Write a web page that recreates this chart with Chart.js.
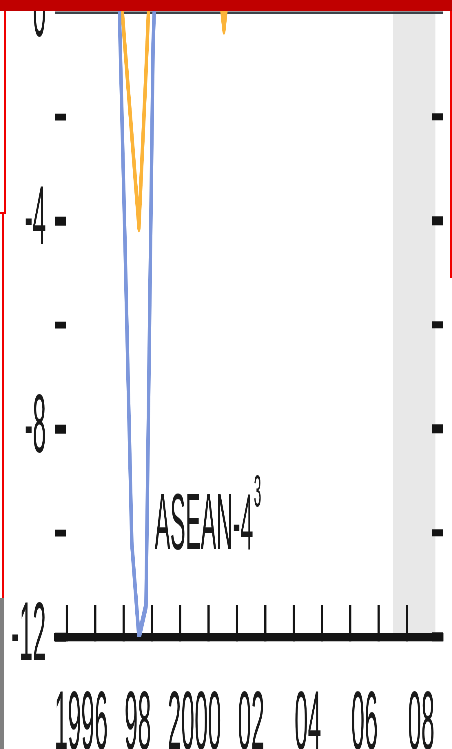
<!DOCTYPE html>
<html>
<head>
<meta charset="utf-8">
<script src="https://cdn.jsdelivr.net/npm/chart.js@4.4.1/dist/chart.umd.min.js"></script>
<style>
html,body{margin:0;padding:0;background:#fff;overflow:hidden;width:452px;height:749px;}
#stage{position:absolute;left:0;top:0;width:452px;height:217px;transform:scaleY(3.4516);transform-origin:0 0;}
.deco{position:absolute;}
</style>
</head>
<body>
<div id="stage"><canvas id="c" width="452" height="217"></canvas></div>
<div class="deco" style="left:0;top:0;width:452px;height:11px;background:#c00000;"></div>
<div class="deco" style="left:4px;top:11px;width:2px;height:202px;background:#f00000;"></div>
<div class="deco" style="left:0;top:212px;width:6px;height:2px;background:#f00000;"></div>
<div class="deco" style="left:2px;top:213px;width:2px;height:385px;background:#f00000;"></div>
<div class="deco" style="left:0;top:598px;width:4px;height:151px;background:#7f7f7f;"></div>
<div class="deco" style="left:449.5px;top:11px;width:2px;height:267px;background:#f00000;"></div>
<script>
// ---- data ----
const blueYears  = [1996.04, 1996.54, 1997.04, 1997.54, 1997.79, 1998.04, 1998.29, 1998.54, 1998.79, 1999.04, 1999.29, 1999.79, 2000.29, 2000.79, 2001.29, 2001.79, 2002.29, 2002.79, 2003.29, 2003.79, 2004.29, 2004.79, 2005.29, 2005.79, 2006.29, 2006.79, 2007.29, 2007.79, 2008.29, 2008.79];
const blueValues = [7.5, 7.2, 6.8, 4.5, 1.4, -4.2, -10.2, -12.0, -11.4, -0.6, 3.2, 5.5, 6.0, 4.0, 1.5, 2.5, 4.2, 5.0, 4.8, 5.6, 6.0, 5.4, 5.1, 5.3, 5.6, 5.8, 6.0, 5.8, 5.2, 4.0];

const orangeYears  = [1996.04, 1996.54, 1997.04, 1997.54, 1997.79, 1998.04, 1998.29, 1998.54, 1998.79, 1999.04, 1999.29, 1999.79, 2000.29, 2000.79, 2001.04, 2001.29, 2001.54, 2001.79, 2002.29, 2002.79, 2003.29, 2003.79, 2004.29, 2004.79, 2005.29, 2005.79, 2006.29, 2006.79, 2007.29, 2007.79, 2008.29, 2008.79];
const orangeValues = [6.5, 6.0, 5.5, 3.5, 1.2, -0.6, -2.35, -4.1, -1.13, 2.2, 3.0, 4.0, 4.5, 3.0, 1.8, 1.0, -0.3, 1.0, 2.5, 3.5, 3.0, 4.0, 4.5, 4.0, 3.8, 4.2, 4.5, 4.8, 5.0, 4.6, 3.5, 2.0];

const xTickYears  = [1996, 1997, 1998, 1999, 2000, 2001, 2002, 2003, 2004, 2005, 2006, 2007, 2008];
const xTickLabels = ['1996', '', '98', '', '2000', '', '02', '', '04', '', '06', '', '08'];
const yTickValues = [-12, -10, -8, -6, -4, -2, 0];
const yTickLabels = ['-12', '', '-8', '', '-4', '', '0'];
const shadeRange  = [2007.5, 2009.0];
const seriesLabel = 'ASEAN-4';
const seriesNote  = '3';

// ---- layout / style ----
const S = 749 / 217;
const FONT = "'Liberation Sans', Arial, sans-serif";
const xMin = 1995.58, xMax = 2009.27, yMin = -12, yMax = 0.25;
const labelAnchor = {x: 1999.1, y: -10.31};

const shadePlugin = {
  id: 'shade',
  beforeDraw(chart) {
    const {ctx, chartArea, scales} = chart;
    const x0 = scales.x.getPixelForValue(shadeRange[0]);
    const x1 = scales.x.getPixelForValue(shadeRange[1]);
    ctx.save();
    ctx.fillStyle = '#e8e8e8';
    ctx.fillRect(x0, chartArea.top, x1 - x0, chartArea.bottom - chartArea.top);
    ctx.restore();
  },
  afterDatasetsDraw(chart) {
    const {ctx, scales} = chart;
    const px = scales.x.getPixelForValue(labelAnchor.x);
    const py = scales.y.getPixelForValue(labelAnchor.y);
    ctx.save();
    ctx.fillStyle = '#1a1a1a';
    ctx.textBaseline = 'alphabetic';
    ctx.textAlign = 'left';
    ctx.font = '23px ' + FONT;
    ctx.fillText(seriesLabel, px, py);
    const w = ctx.measureText(seriesLabel).width;
    ctx.font = '13.5px ' + FONT;
    ctx.fillText(seriesNote, px + w + 0.5, py - 42 / S);
    ctx.restore();
  }
};

new Chart(document.getElementById('c'), {
  type: 'line',
  data: {
    datasets: [
      {
        label: 'blue',
        data: blueYears.map((t, i) => ({x: t, y: blueValues[i]})),
        borderColor: '#7d97db',
        borderWidth: 3.5,
        borderJoinStyle: 'round',
        borderCapStyle: 'round',
        pointRadius: 0,
        tension: 0,
        fill: false
      },
      {
        label: 'orange',
        data: orangeYears.map((t, i) => ({x: t, y: orangeValues[i]})),
        borderColor: '#fbb43a',
        borderWidth: 3.5,
        borderJoinStyle: 'round',
        borderCapStyle: 'round',
        pointRadius: 0,
        tension: 0,
        fill: false
      }
    ]
  },
  options: {
    responsive: false,
    devicePixelRatio: S,
    animation: false,
    events: [],
    layout: {padding: 0},
    plugins: {legend: {display: false}, tooltip: {enabled: false}},
    scales: {
      x: {
        type: 'linear',
        position: 'bottom',
        min: xMin, max: xMax,
        afterBuildTicks: s => { s.ticks = xTickYears.map(v => ({value: v})); },
        afterFit: s => { s.height = 217 - 637 / S; s.paddingLeft = 0; s.paddingRight = 0; },
        border: {display: true, color: '#141414', width: 2.4},
        grid: {display: true, drawOnChartArea: false, drawTicks: true, tickLength: -9.27, tickWidth: 2.2, tickColor: '#141414'},
        ticks: {
          autoSkip: false, maxRotation: 0, minRotation: 0,
          labelOffset: 14.17,
          padding: 20.6,
          color: '#1a1a1a',
          font: {family: FONT, size: 24},
          callback: (v, i) => xTickLabels[i]
        }
      },
      y: {
        type: 'linear',
        position: 'left',
        min: yMin, max: yMax,
        afterBuildTicks: s => { s.ticks = yTickValues.map(v => ({value: v})); },
        afterFit: s => { s.width = 55; s.paddingTop = 0; s.paddingBottom = 0; },
        border: {display: false},
        grid: {
          display: true, drawOnChartArea: true, drawTicks: true, tickLength: -11,
          color: c => (c.tick && c.tick.value === 0) ? '#3b4249' : 'rgba(0,0,0,0)',
          lineWidth: c => (c.tick && c.tick.value === 0) ? 0.75 : 2.4,
          tickWidth: c => (c.tick && c.tick.value % 4 === 0) ? 2.6 : 2.0,
          tickColor: c => (c.tick && c.tick.value === 0) ? 'rgba(0,0,0,0)' : '#141414'
        },
        ticks: {
          autoSkip: false,
          padding: 20,
          color: '#1a1a1a',
          font: {family: FONT, size: 24},
          callback: (v, i) => yTickLabels[i]
        }
      },
      y2: {
        type: 'linear',
        position: 'right',
        min: yMin, max: yMax,
        afterBuildTicks: s => { s.ticks = yTickValues.map(v => ({value: v})); },
        afterFit: s => { s.width = 9; s.paddingTop = 0; s.paddingBottom = 0; },
        border: {display: false},
        grid: {
          display: true, drawOnChartArea: false, drawTicks: true, tickLength: -11,
          tickWidth: c => (c.tick && c.tick.value % 4 === 0) ? 2.6 : 2.0,
          tickColor: c => (c.tick && c.tick.value === 0) ? 'rgba(0,0,0,0)' : '#141414'
        },
        ticks: {display: false}
      }
    }
  },
  plugins: [shadePlugin]
});
</script>
</body>
</html>
